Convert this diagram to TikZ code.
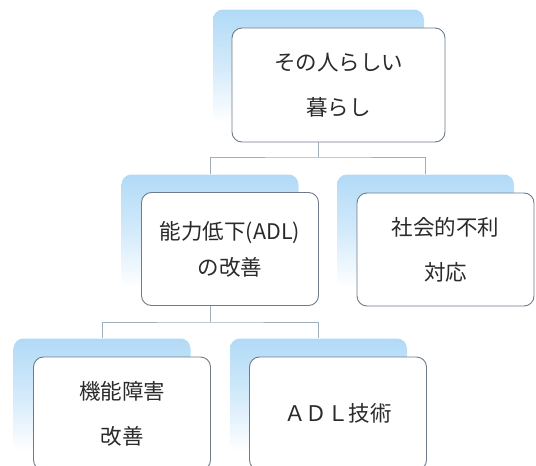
\documentclass[tikz,border=0pt]{standalone}
\usepackage{fontspec}
\newfontfamily\jp{Noto Sans CJK JP}
\definecolor{shblue}{HTML}{B1DAF7}
\definecolor{shmid}{HTML}{D3EAFA}
\definecolor{edge}{HTML}{6E7C8A}
\definecolor{conncol}{HTML}{9DAEBD}
\definecolor{txt}{HTML}{2A2A2A}
\tikzset{
  frontbox/.style={draw=edge, line width=0.9pt, fill=white, rounded corners=10pt,
    minimum width=177pt, minimum height=113pt, inner sep=0pt, align=center,
    text=txt, font=\jp\fontsize{21.5}{45}\selectfont},
  backbox/.style={rounded corners=10pt, minimum width=177pt, minimum height=113pt,
    inner sep=0pt, top color=shblue, bottom color=white, middle color=shmid, draw=none},
  conn/.style={draw=conncol, line width=0.9pt}
}
\begin{document}
\begin{tikzpicture}[x=1pt,y=-1pt]
\useasboundingbox (0,0) rectangle (536,466);
\clip (0,0) rectangle (536,466);
% shadow (back) boxes
\node[backbox, minimum width=211pt] (topsh) at (318.5,66) {};
\node[backbox] (mlsh) at (210,231) {};
\node[backbox] (rsh) at (425.5,231) {};
\node[backbox] (blsh) at (102,395) {};
\node[backbox] (brsh) at (318.5,395) {};
% connectors
\coordinate (j1) at (318.5,157);
\coordinate (j2) at (210,322);
\draw[conn] (topsh.center |- 0,142) -- (j1);
\draw[conn] (mlsh.north) |- (j1) -| (rsh.north);
\draw[conn] (mlsh.center |- 0,305) -- (j2);
\draw[conn] (blsh.north) |- (j2) -| (brsh.north);
% front boxes
\node[frontbox, minimum width=213pt, minimum height=114pt] (top) at (338.5,85) {その人らしい\\暮らし};
\node[frontbox, font=\jp\fontsize{21.5}{36}\selectfont] (ml) at (230,249) {能力低下(ADL)\\の改善};
\node[frontbox] (r) at (445.5,249.5) {社会的不利\\対応};
\node[frontbox] (bl) at (122,413.5) {機能障害\\改善};
\node[frontbox] (br) at (338,413.5) {ＡＤＬ技術};
\end{tikzpicture}
\end{document}
